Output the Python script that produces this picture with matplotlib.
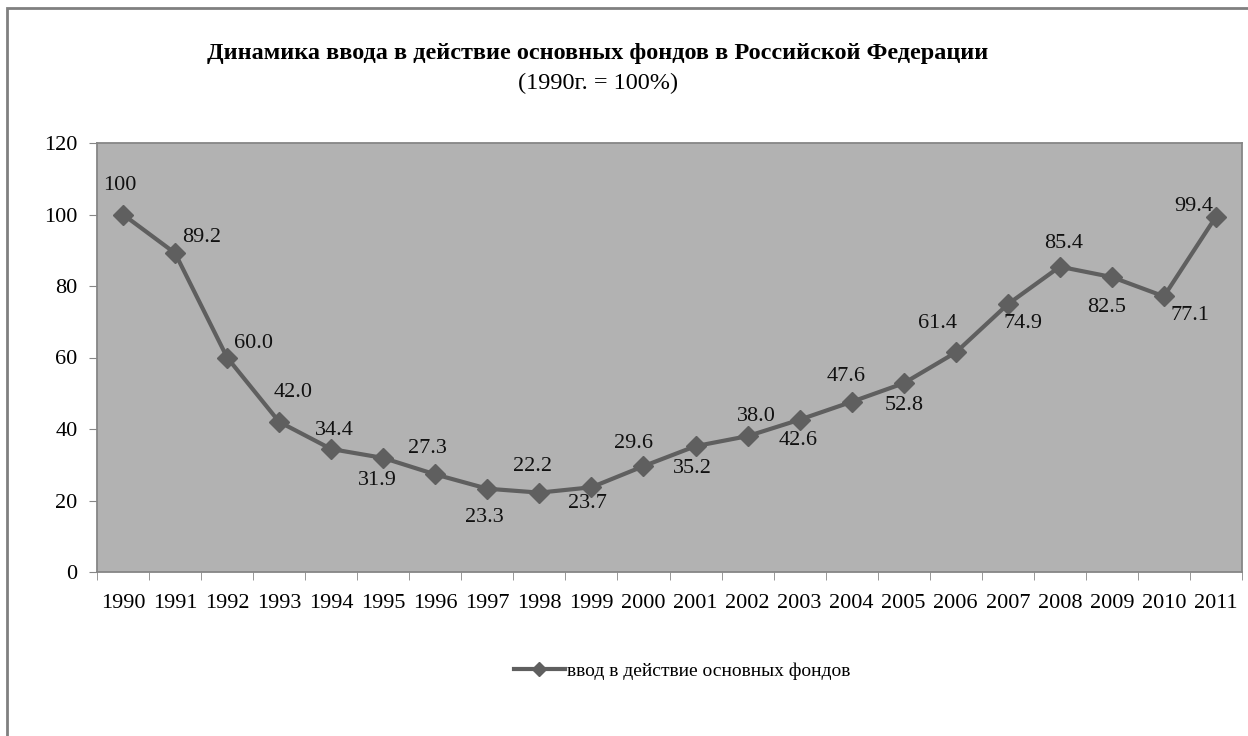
import matplotlib
matplotlib.use("Agg")
import matplotlib.pyplot as plt
from matplotlib.patches import Rectangle
from matplotlib.lines import Line2D

plt.rcParams['font.family'] = ['Liberation Serif', 'DejaVu Serif']

# данные
years = ['1990', '1991', '1992', '1993', '1994', '1995', '1996', '1997', '1998', '1999', '2000',
         '2001', '2002', '2003', '2004', '2005', '2006', '2007', '2008', '2009', '2010', '2011']
values = [100, 89.2, 60.0, 42.0, 34.4, 31.9, 27.3, 23.3, 22.2, 23.7, 29.6,
          35.2, 38.0, 42.6, 47.6, 52.8, 61.4, 74.9, 85.4, 82.5, 77.1, 99.4]
labels = ['100', '89.2', '60.0', '42.0', '34.4', '31.9', '27.3', '23.3', '22.2', '23.7', '29.6',
          '35.2', '38.0', '42.6', '47.6', '52.8', '61.4', '74.9', '85.4', '82.5', '77.1', '99.4']

# смещения подписей (в точках)
label_offsets = [(-2, 21), (19, 11), (19, 10), (10, 21), (2, 13), (-4, -16), (-6, 19), (-2, -21),
                 (-5, 19), (-3, -12), (-7, 16), (-2, -16), (6, 14), (-1, -15), (-4, 18), (0, -16),
                 (-13, 21), (11, -14), (3, 17), (-4, -22), (19, -14), (-16, 7)]

line_color = '#5f5f5f'
bg_color = '#b2b2b2'
axis_color = '#868686'

fig = plt.figure(figsize=(12.48, 7.36), dpi=100)
ax = fig.add_axes([97 / 1248, 1 - 572 / 736, (1242 - 97) / 1248, (572 - 143) / 736])
ax.set_facecolor(bg_color)

x = list(range(len(years)))
ax.plot(x, values, color=line_color, lw=3, marker='D', ms=10, mfc=line_color, mec=line_color)

for xi, v, lab, off in zip(x, values, labels, label_offsets):
    ax.annotate(lab, (xi, v), xytext=off, textcoords='offset points',
                ha='center', va='center', fontsize=16, color='#111111')

ax.set_xlim(-0.5, len(years) - 0.5)
ax.set_ylim(0, 120)
ax.set_yticks(range(0, 121, 20))
ax.set_xticks(x)
ax.set_xticklabels(years)
ax.set_xticks([i - 0.5 for i in range(len(years) + 1)], minor=True)
ax.tick_params(axis='x', which='major', length=0, pad=16, labelsize=16)
ax.tick_params(axis='x', which='minor', length=6, color=axis_color, direction='out')
ax.tick_params(axis='y', length=6, color=axis_color, direction='out', labelsize=16, pad=8)
for s in ax.spines.values():
    s.set_color(axis_color)
    s.set_linewidth(1.3)

fig.text(598 / 1248, 1 - 54 / 736, 'Динамика ввода в действие основных фондов в Российской Федерации',
         ha='center', va='center', fontsize=17.5, fontweight='bold')
fig.text(598 / 1248, 1 - 83 / 736, '(1990г. = 100%)', ha='center', va='center', fontsize=17.5)

handle = Line2D([], [], color=line_color, lw=3, marker='D', ms=7, mfc=line_color, mec=line_color)
fig.legend([handle], ['ввод в действие основных фондов'], loc='center',
           bbox_to_anchor=(682 / 1248, 1 - 671 / 736), frameon=False,
           fontsize=14, handlelength=2.6, handletextpad=0.1)

# рамка диаграммы
fig.patches.append(Rectangle((7 / 1248, -0.1), 1.5, 1 - 8 / 736 + 0.1, transform=fig.transFigure,
                             fill=False, ec='#808080', lw=2))

fig.savefig('out.png', dpi=100)
